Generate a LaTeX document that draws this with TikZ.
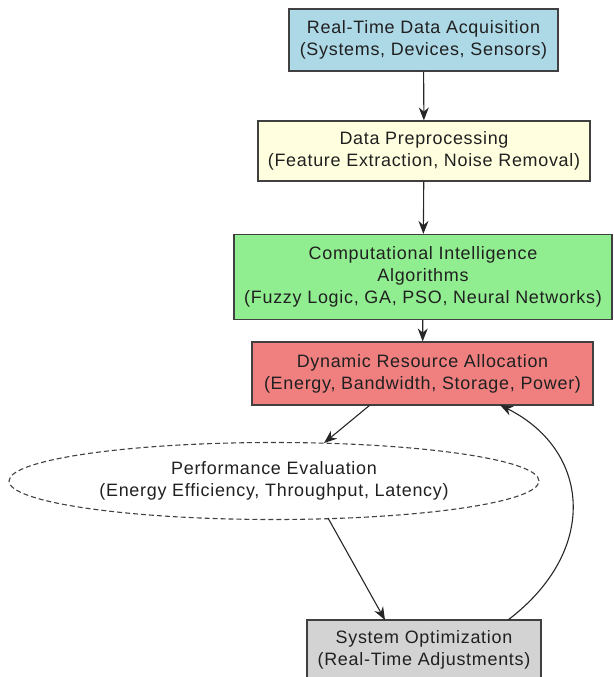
\documentclass[tikz,border=0pt]{standalone}
\usepackage{fontspec}
\setmainfont[LetterSpace=4]{Liberation Sans}
\usetikzlibrary{shapes.geometric,arrows.meta}
\definecolor{cblue}{HTML}{ADD8E6}
\definecolor{cyellow}{HTML}{FFFFE0}
\definecolor{cgreen}{HTML}{90EE90}
\definecolor{cred}{HTML}{F08080}
\definecolor{cgray}{HTML}{D3D3D3}
\definecolor{cborder}{HTML}{404040}
\definecolor{ctext}{HTML}{202020}
\tikzset{
  box/.style={draw=cborder, line width=1.2pt, rectangle, align=center, inner sep=0pt, font=\fontsize{18}{22}\selectfont, text=ctext},
  conn/.style={-{Stealth[length=13pt,width=10pt]}, line width=1.1pt, draw=black!85},
}
\begin{document}
\begin{tikzpicture}[x=1bp,y=-1bp]
\useasboundingbox (0,0) rectangle (614,677);
\clip (0,0) rectangle (614,677);
\node[box, fill=cblue, minimum width=269bp, minimum height=62bp] (acq) at (423.5,40) {Real-Time Data Acquisition\\(Systems, Devices, Sensors)};
\node[box, fill=cyellow, minimum width=332bp, minimum height=60bp] (pre) at (424,151) {Data Preprocessing\\(Feature Extraction, Noise Removal)};
\node[box, fill=cgreen, minimum width=378bp, minimum height=85bp] (ci) at (423,277) {Computational Intelligence\\Algorithms\\(Fuzzy Logic, GA, PSO, Neural Networks)};
\node[box, fill=cred, minimum width=341bp, minimum height=63bp] (dra) at (422.5,373.5) {Dynamic Resource Allocation\\(Energy, Bandwidth, Storage, Power)};
\node[draw=cborder, dash pattern=on 5pt off 3pt, line width=1.1pt, ellipse, inner sep=0pt, minimum width=530bp, minimum height=77bp, align=center, font=\fontsize{18}{22}\selectfont, text=ctext] (pe) at (274,481) {Performance Evaluation\\(Energy Efficiency, Throughput, Latency)};
\node[box, fill=cgray, minimum width=234bp, minimum height=60bp] (so) at (424,650) {System Optimization\\(Real-Time Adjustments)};
\draw[conn] (acq) -- (pre);
\draw[conn] (pre) -- (ci);
\draw[conn] (ci) -- (dra);
\coordinate (d1) at (370,405);
\coordinate (e1) at (324,443);
\draw[conn] (d1) -- (e1);
\coordinate (e2) at (328,518);
\coordinate (s1) at (385,620);
\draw[conn] (e2) -- (s1);
\coordinate (s2) at (508,620);
\coordinate (d2) at (500,405);
\draw[conn] (s2) .. controls (600,550) and (590,450) .. (d2);
\end{tikzpicture}
\end{document}
